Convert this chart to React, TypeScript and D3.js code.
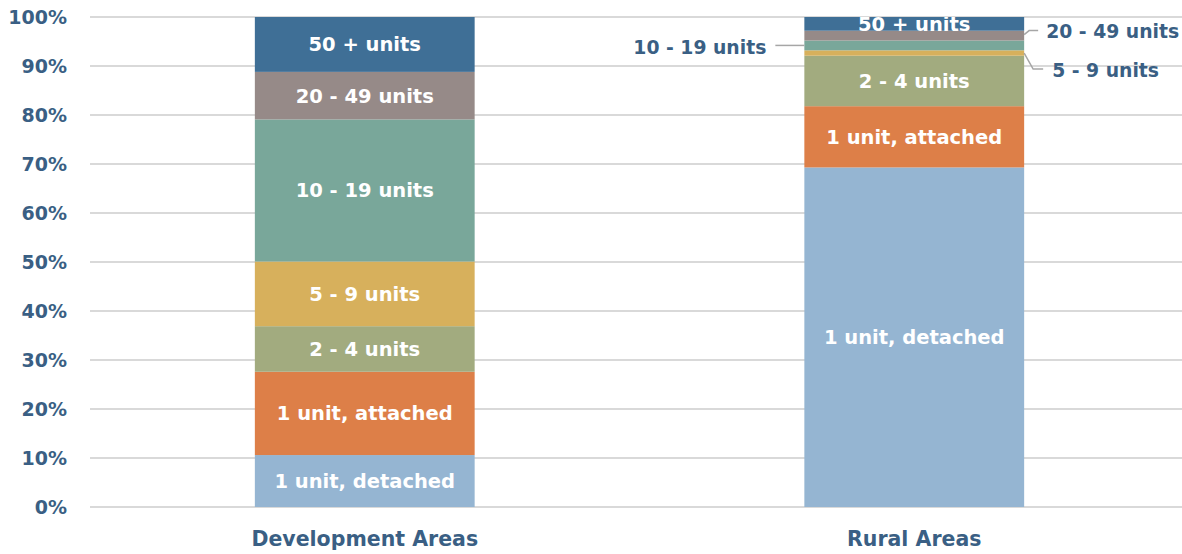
import { useEffect, useRef } from "react";
import * as d3 from "d3";

// chart size and plot margins
const width = 1182;
const height = 554;
const margin = { top: 17, right: -7, bottom: 47, left: 90 };

const areas = ["Development Areas", "Rural Areas"];
const unitTypes = [
  "1 unit, detached",
  "1 unit, attached",
  "2 - 4 units",
  "5 - 9 units",
  "10 - 19 units",
  "20 - 49 units",
  "50 + units",
];
const developmentShares = [10.6, 17.0, 9.3, 13.2, 29.0, 9.7, 11.2];
const ruralShares = [69.3, 12.5, 10.3, 1.1, 2.0, 2.0, 2.8];
const tickValues = [0, 10, 20, 30, 40, 50, 60, 70, 80, 90, 100];
const colours = ["#95b5d2", "#dd7f48", "#a2ab7f", "#d7b05c", "#79a79a", "#968a88", "#3f6f96"];

// segments too thin for an inside label get a callout
const outsideLabels = ["10 - 19 units", "20 - 49 units", "5 - 9 units"];

const textColour = "#3a5f84";
const font = "'DejaVu Sans', sans-serif";

const App = () => {
  const ref = useRef<SVGSVGElement>(null);

  useEffect(() => {
    const svg = d3.select(ref.current);
    svg.selectAll("*").remove();

    const innerW = width - margin.left - margin.right;
    const innerH = height - margin.top - margin.bottom;

    const x = d3.scaleBand().domain(areas).range([0, innerW]).paddingInner(0.6).paddingOuter(0.3);
    const y = d3.scaleLinear().domain([0, 100]).range([innerH, 0]);

    const rows = areas.map((a, i) => {
      const row: any = { area: a };
      const vals = i === 0 ? developmentShares : ruralShares;
      unitTypes.forEach((u, j) => (row[u] = vals[j]));
      return row;
    });
    const series = d3.stack().keys(unitTypes)(rows);

    svg.append("defs").append("clipPath").attr("id", "plotclip")
      .append("rect").attr("x", 0).attr("y", 0).attr("width", innerW).attr("height", innerH);

    const g = svg.append("g").attr("transform", `translate(${margin.left},${margin.top})`);

    // gridlines
    g.selectAll("line.grid")
      .data(tickValues)
      .join("line")
      .attr("x1", 0)
      .attr("x2", innerW)
      .attr("y1", (d) => y(d))
      .attr("y2", (d) => y(d))
      .attr("stroke", "#d9d9d9")
      .attr("stroke-width", 2);

    // tick labels
    g.selectAll("text.tick")
      .data(tickValues)
      .join("text")
      .attr("x", -23)
      .attr("y", (d) => y(d))
      .attr("dy", "0.36em")
      .attr("text-anchor", "end")
      .attr("font-family", font)
      .attr("font-weight", "bold")
      .attr("font-size", 19)
      .attr("fill", textColour)
      .text((d) => `${d}%`);

    // bars
    const layer = g.selectAll("g.layer")
      .data(series)
      .join("g")
      .attr("fill", (d, i) => colours[i]);

    layer.selectAll("rect")
      .data((d) => d)
      .join("rect")
      .attr("x", (d: any) => x(d.data.area)!)
      .attr("width", x.bandwidth())
      .attr("y", (d) => y(d[1]))
      .attr("height", (d) => y(d[0]) - y(d[1]));

    // inside labels
    const labels = g.append("g").attr("clip-path", "url(#plotclip)");
    series.forEach((s) => {
      s.forEach((d: any) => {
        const isRural = d.data.area === "Rural Areas";
        if (isRural && outsideLabels.includes(s.key)) return;
        labels.append("text")
          .attr("x", x(d.data.area)! + x.bandwidth() / 2)
          .attr("y", (y(d[0]) + y(d[1])) / 2)
          .attr("dy", "0.36em")
          .attr("text-anchor", "middle")
          .attr("font-family", font)
          .attr("font-weight", "bold")
          .attr("font-size", 19.5)
          .attr("fill", "#ffffff")
          .text(s.key);
      });
    });

    // callouts for the thin rural segments
    const rx0 = x("Rural Areas")!;
    const rx1 = rx0 + x.bandwidth();
    const mid = (key: string) => {
      const s = series.find((q) => q.key === key)!;
      const d = s[1];
      return (y(d[0]) + y(d[1])) / 2;
    };
    const callouts = [
      { key: "10 - 19 units", pts: [[rx0, mid("10 - 19 units")], [rx0 - 29, mid("10 - 19 units")]], tx: rx0 - 38, ty: mid("10 - 19 units") + 2, anchor: "end" },
      { key: "20 - 49 units", pts: [[rx1, mid("20 - 49 units") - 1], [rx1 + 5, mid("20 - 49 units") - 5], [rx1 + 14, mid("20 - 49 units") - 5]], tx: rx1 + 22, ty: mid("20 - 49 units") - 4, anchor: "start" },
      { key: "5 - 9 units", pts: [[rx1, mid("5 - 9 units")], [rx1 + 9, mid("5 - 9 units") + 16], [rx1 + 19, mid("5 - 9 units") + 16]], tx: rx1 + 28, ty: mid("5 - 9 units") + 17, anchor: "start" },
    ];
    callouts.forEach((c) => {
      g.append("path")
        .attr("d", d3.line()(c.pts as [number, number][]))
        .attr("fill", "none")
        .attr("stroke", "#a6a6a6")
        .attr("stroke-width", 1.5);
      g.append("text")
        .attr("x", c.tx)
        .attr("y", c.ty)
        .attr("dy", "0.36em")
        .attr("text-anchor", c.anchor)
        .attr("font-family", font)
        .attr("font-weight", "bold")
        .attr("font-size", 18.8)
        .attr("fill", textColour)
        .text(c.key);
    });

    // category labels
    g.selectAll("text.cat")
      .data(areas)
      .join("text")
      .attr("x", (d) => x(d)! + x.bandwidth() / 2)
      .attr("y", innerH + 32)
      .attr("dy", "0.36em")
      .attr("text-anchor", "middle")
      .attr("font-family", font)
      .attr("font-weight", "bold")
      .attr("font-size", 20.5)
      .attr("fill", textColour)
      .text((d) => d);
  }, []);

  return (
    <svg
      ref={ref}
      width={width}
      height={height}
      style={{ position: "absolute", left: 0, top: 0, background: "#fff" }}
    />
  );
};

export default App;
